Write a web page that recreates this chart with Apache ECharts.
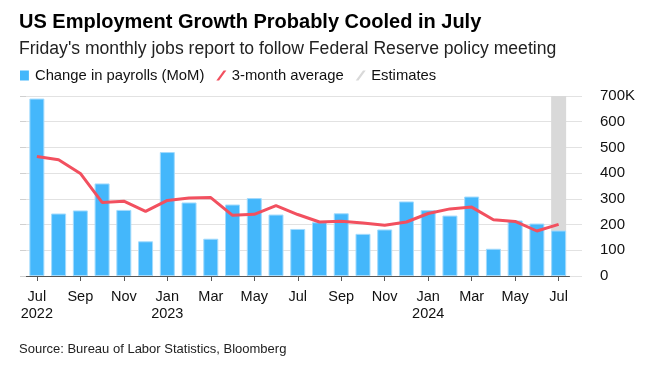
<!DOCTYPE html>
<html>
<head>
<meta charset="utf-8">
<script src="https://cdn.jsdelivr.net/npm/echarts@6/dist/echarts.min.js"></script>
<style>
html,body{margin:0;padding:0;background:#fff;}
#chart{width:654px;height:371px;}
</style>
</head>
<body>
<div id="chart"></div>
<script>
const categories = ['Jul 2022','Aug 2022','Sep 2022','Oct 2022','Nov 2022','Dec 2022',
  'Jan 2023','Feb 2023','Mar 2023','Apr 2023','May 2023','Jun 2023','Jul 2023','Aug 2023',
  'Sep 2023','Oct 2023','Nov 2023','Dec 2023','Jan 2024','Feb 2024','Mar 2024','Apr 2024',
  'May 2024','Jun 2024','Jul 2024'];
const payrolls = [690,243,255,360,257,135,482,286,145,278,303,239,183,209,244,164,181,290,256,235,309,106,216,204,177];
const avg3m = [465,452,399,286,291,251,294,303,305,236,240,274,239,210,213,206,197,210,243,261,268,219,212,175,201];
const estimates = [null,null,null,null,null,null,null,null,null,null,null,null,null,null,null,null,null,null,null,null,null,null,null,null,700];
const yTicks = [0,100,200,300,400,500,600,700];

const FONT = '"Liberation Sans", Arial, Helvetica, sans-serif';
const chart = echarts.init(document.getElementById('chart'));
const slash = 'path://M0,11 L3,11 L11,0 L8,0 Z';
const square = 'path://M0,0 L8,0 L8,9 L0,9 Z';

chart.setOption({
  animation: false,
  textStyle: {fontFamily: FONT},
  title: [
    {text: 'US Employment Growth Probably Cooled in July', left: 14, top: 7,
     textStyle: {fontFamily: FONT, fontSize: 20, fontWeight: 'bold', color: '#000'}},
    {text: "Friday's monthly jobs report to follow Federal Reserve policy meeting", left: 14, top: 35,
     textStyle: {fontFamily: FONT, fontSize: 17.6, fontWeight: 'normal', color: '#222'}},
    {text: 'Source: Bureau of Labor Statistics, Bloomberg', left: 14, top: 338,
     textStyle: {fontFamily: FONT, fontSize: 13, fontWeight: 'normal', color: '#222'}}
  ],
  legend: {
    left: 15, top: 63, itemGap: 12, itemWidth: 11, itemHeight: 10,
    textStyle: {fontFamily: FONT, fontSize: 14.8, color: '#111'},
    data: [
      {name: 'Change in payrolls (MoM)', icon: square, itemStyle: {color: '#44b7fb', borderWidth: 0}},
      {name: '3-month average', icon: slash, itemStyle: {color: '#f2505f'}},
      {name: 'Estimates', icon: slash, itemStyle: {color: '#d9d9d9'}}
    ]
  },
  grid: [
    {left: 26, right: 84.5, top: 96, bottom: 95, containLabel: false},
    {left: 20, right: 72, top: 96, bottom: 95, containLabel: false}
  ],
  xAxis: [
    {type: 'category', gridIndex: 0, data: categories, boundaryGap: true,
     axisLine: {lineStyle: {color: '#555', width: 1}},
     axisTick: {show: true, interval: 1, alignWithLabel: true, length: 5, lineStyle: {color: '#555'}},
     axisLabel: {interval: 1, margin: 12, fontSize: 14.5, lineHeight: 17, color: '#111', fontFamily: FONT,
       formatter: function (v, i) {
         const p = v.split(' ');
         return (i === 0 || p[0] === 'Jan') ? p[0] + '\n' + p[1] : p[0];
       }}},
    {type: 'value', gridIndex: 1, show: false, min: 0, max: 1}
  ],
  yAxis: [
    {type: 'value', gridIndex: 0, min: 0, max: 700, interval: 100, show: false},
    {type: 'value', gridIndex: 1, min: 0, max: 700, interval: 100, position: 'right', offset: 7,
     axisLine: {show: false},
     axisTick: {show: true, length: 6, lineStyle: {color: '#d0d0d0'}},
     splitLine: {show: true, lineStyle: {color: '#e2e2e2', width: 1}},
     axisLabel: {margin: 11, fontSize: 15, color: '#111', fontFamily: FONT, align: 'left',
       formatter: function (v) { return v === yTicks[yTicks.length - 1] ? v + 'K' : String(v); }}}
  ],
  series: [
    {name: 'Estimates', type: 'bar', xAxisIndex: 0, yAxisIndex: 0, data: estimates,
     barWidth: 15, barGap: '-100%', itemStyle: {color: '#d9d9d9'}, z: 1, silent: true},
    {name: 'Change in payrolls (MoM)', type: 'bar', xAxisIndex: 0, yAxisIndex: 0, data: payrolls,
     barWidth: 15, barGap: '-100%', itemStyle: {color: '#44b7fb', borderColor: '#a3dbfd', borderWidth: 1}, z: 2},
    {name: '3-month average', type: 'line', xAxisIndex: 0, yAxisIndex: 0, data: avg3m,
     showSymbol: false, symbol: 'none', lineStyle: {color: '#f2505f', width: 3}, itemStyle: {color: '#f2505f'}, z: 3}
  ]
});
</script>
</body>
</html>
